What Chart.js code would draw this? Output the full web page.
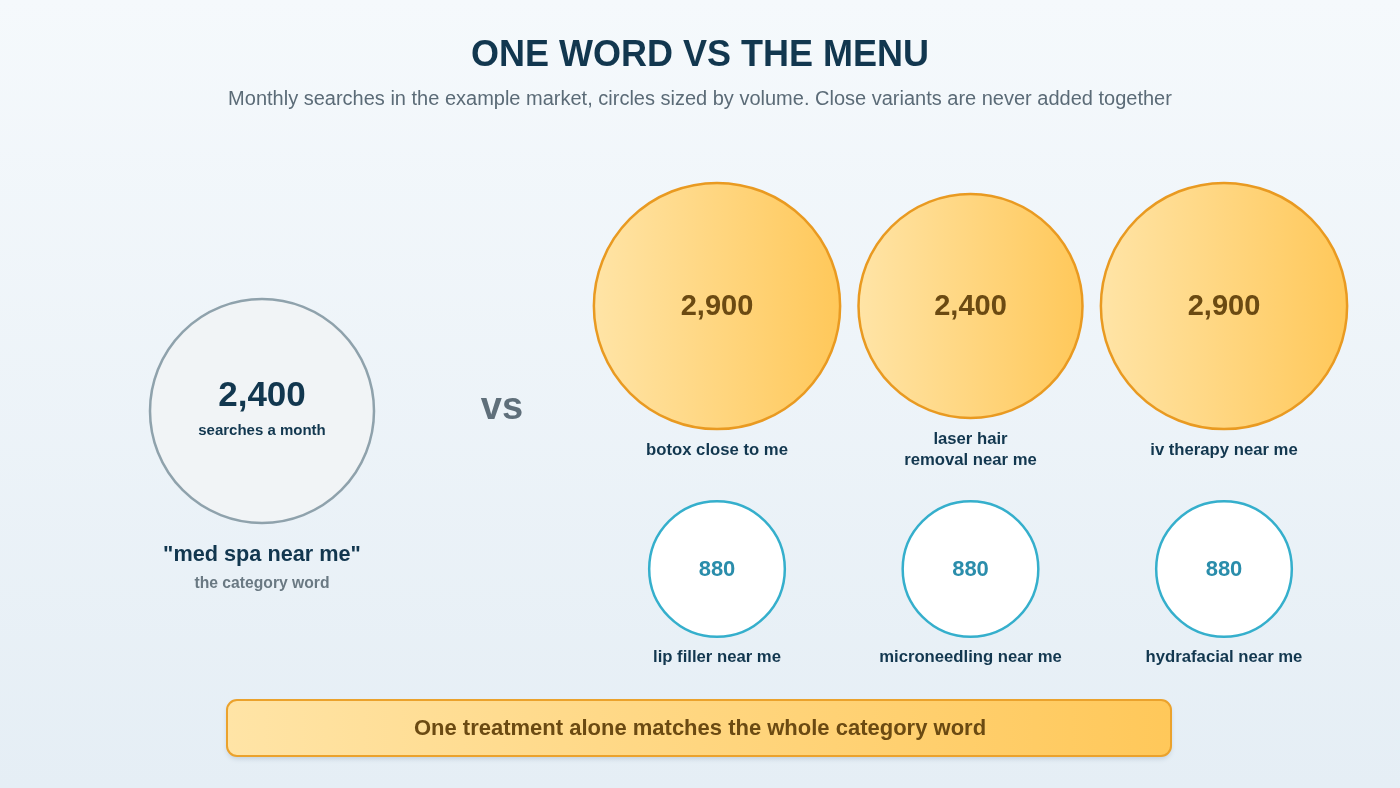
<!DOCTYPE html>
<html>
<head>
<meta charset="utf-8">
<title>One word vs the menu</title>
<script src="https://cdn.jsdelivr.net/npm/chart.js@4.4.1/dist/chart.umd.min.js"></script>
<style>
  html, body { margin: 0; padding: 0; background: #eef4f8; }
  #wrap { width: 1400px; height: 788px; position: relative; }
</style>
</head>
<body>
<div id="wrap"><canvas id="bubbleChart" width="1400" height="788"></canvas></div>
<script>
// data
var categoryWord = "med spa near me";
var categoryVolume = 2400;
var treatments = ["botox close to me", "laser hair\nremoval near me", "iv therapy near me",
                  "lip filler near me", "microneedling near me", "hydrafacial near me"];
var treatmentVolumes = [2900, 2400, 2900, 880, 880, 880];
// column (0..2) and row (0 = top, 1 = bottom) of each treatment on the grid
var treatmentCols = [0, 1, 2, 0, 1, 2];
var treatmentRows = [0, 0, 0, 1, 1, 1];

var titleText = "ONE WORD VS THE MENU";
var subtitleText = "Monthly searches in the example market, circles sized by volume. Close variants are never added together";
var bannerText = "One treatment alone matches the whole category word";

var FONT = "'Liberation Sans', Arial, Helvetica, sans-serif";
var NAVY = "#12374f";

// circles sized by area: the category word's circle is 112px across its radius
function radiusFor(v) {
  return Math.sqrt(v / categoryVolume) * 112;
}

function fmt(v) {
  return v.toLocaleString("en-US");
}

var bigPoints = [], smallPoints = [];
for (var i = 0; i < treatments.length; i++) {
  var p = { x: treatmentCols[i], y: treatmentRows[i], r: radiusFor(treatmentVolumes[i]), v: treatmentVolumes[i], label: treatments[i] };
  if (treatmentVolumes[i] >= 1000) bigPoints.push(p); else smallPoints.push(p);
}

function orangeFill(ctx) {
  var chart = ctx.chart;
  if (!chart.chartArea || !ctx.raw) return "#ffd27a";
  var cx = chart.scales.x.getPixelForValue(ctx.raw.x);
  var g = chart.ctx.createLinearGradient(cx - ctx.raw.r, 0, cx + ctx.raw.r, 0);
  g.addColorStop(0, "#ffe4a6");
  g.addColorStop(1, "#ffc85a");
  return g;
}

// background, texts and the banner
var decorPlugin = {
  id: "decor",
  beforeDraw: function (chart) {
    var c = chart.ctx;
    var g = c.createLinearGradient(0, 0, 0, chart.height);
    g.addColorStop(0, "#f5f9fc");
    g.addColorStop(1, "#e5eef5");
    c.save();
    c.fillStyle = g;
    c.fillRect(0, 0, chart.width, chart.height);
    c.restore();
  },
  afterDraw: function (chart) {
    var c = chart.ctx;
    c.save();
    c.textAlign = "center";
    c.textBaseline = "middle";

    // title + subtitle
    c.fillStyle = NAVY;
    c.font = "bold 36px " + FONT;
    c.fillText(titleText, 700, 56);
    c.fillStyle = "#5b6b77";
    c.font = "20px " + FONT;
    c.fillText(subtitleText, 700, 99);

    // category word circle text
    var meta = chart.getDatasetMeta(0).data[0];
    var lx = meta.x, ly = meta.y, lr = categoryDataset.data[0].r;
    c.fillStyle = NAVY;
    c.font = "bold 35px " + FONT;
    c.fillText(fmt(categoryVolume), lx, ly - 15);
    c.font = "bold 15px " + FONT;
    c.fillText("searches a month", lx, ly + 20);
    c.font = "bold 21.7px " + FONT;
    c.fillText("\"" + categoryWord + "\"", lx, ly + lr + 32);
    c.fillStyle = "#6a7983";
    c.font = "bold 15.7px " + FONT;
    c.fillText("the category word", lx, ly + lr + 61);

    // vs
    c.fillStyle = "#5f6f7a";
    c.font = "bold 38px " + FONT;
    c.fillText("vs", 502, ly - 2);

    // treatment circles
    [1, 2].forEach(function (di) {
      var ds = chart.data.datasets[di];
      chart.getDatasetMeta(di).data.forEach(function (el, j) {
        var d = ds.data[j];
        if (di === 1) {
          c.fillStyle = "#6b4a12";
          c.font = "bold 29px " + FONT;
        } else {
          c.fillStyle = "#2a8dab";
          c.font = "bold 22px " + FONT;
        }
        c.fillText(fmt(d.v), el.x, el.y + 1);
        c.fillStyle = NAVY;
        c.font = "bold 16.7px " + FONT;
        var lines = d.label.split("\n");
        var top = el.y + d.r + 21;
        lines.forEach(function (ln, k) {
          c.fillText(ln, el.x, top + k * 21);
        });
      });
    });

    // banner
    var bx = 227, by = 700, bw = 944, bh = 56;
    c.save();
    c.shadowColor = "rgba(40,70,100,0.18)";
    c.shadowBlur = 5;
    c.shadowOffsetY = 3;
    var bg = c.createLinearGradient(bx, 0, bx + bw, 0);
    bg.addColorStop(0, "#ffe4a6");
    bg.addColorStop(1, "#ffc85a");
    c.fillStyle = bg;
    c.beginPath();
    c.roundRect(bx, by, bw, bh, 10);
    c.fill();
    c.restore();
    c.strokeStyle = "#eba22c";
    c.lineWidth = 2;
    c.beginPath();
    c.roundRect(bx, by, bw, bh, 10);
    c.stroke();
    c.fillStyle = "#6b4a12";
    c.font = "bold 22px " + FONT;
    c.fillText(bannerText, 700, by + bh / 2 + 1);

    c.restore();
  }
};

// the grid: column 0 sits at 717px, 253.5px per column; row 0 at 306px, 263px per row
var categoryDataset = {
  label: categoryWord,
  data: [{ x: (262 - 717) / 253.5, y: (411 - 306) / 263, r: radiusFor(categoryVolume), v: categoryVolume }],
  backgroundColor: "#f1f4f6",
  borderColor: "#8fa2ac",
  borderWidth: 2.5
};

var ctx = document.getElementById("bubbleChart").getContext("2d");
var bubbleChart = new Chart(ctx, {
  type: "bubble",
  data: {
    datasets: [
      categoryDataset,
      {
        label: "big treatments",
        data: bigPoints,
        backgroundColor: orangeFill,
        borderColor: "#e99a21",
        borderWidth: 2.5
      },
      {
        label: "small treatments",
        data: smallPoints,
        backgroundColor: "#ffffff",
        borderColor: "#35afcc",
        borderWidth: 2.5
      }
    ]
  },
  options: {
    responsive: false,
    animation: false,
    events: [],
    layout: { padding: 0, autoPadding: false },
    plugins: { legend: { display: false }, tooltip: { enabled: false } },
    scales: {
      x: { type: "linear", display: false, min: -717 / 253.5, max: (1400 - 717) / 253.5 },
      y: { type: "linear", display: false, reverse: true, min: -306 / 263, max: (788 - 306) / 263 }
    }
  },
  plugins: [decorPlugin]
});
</script>
</body>
</html>
